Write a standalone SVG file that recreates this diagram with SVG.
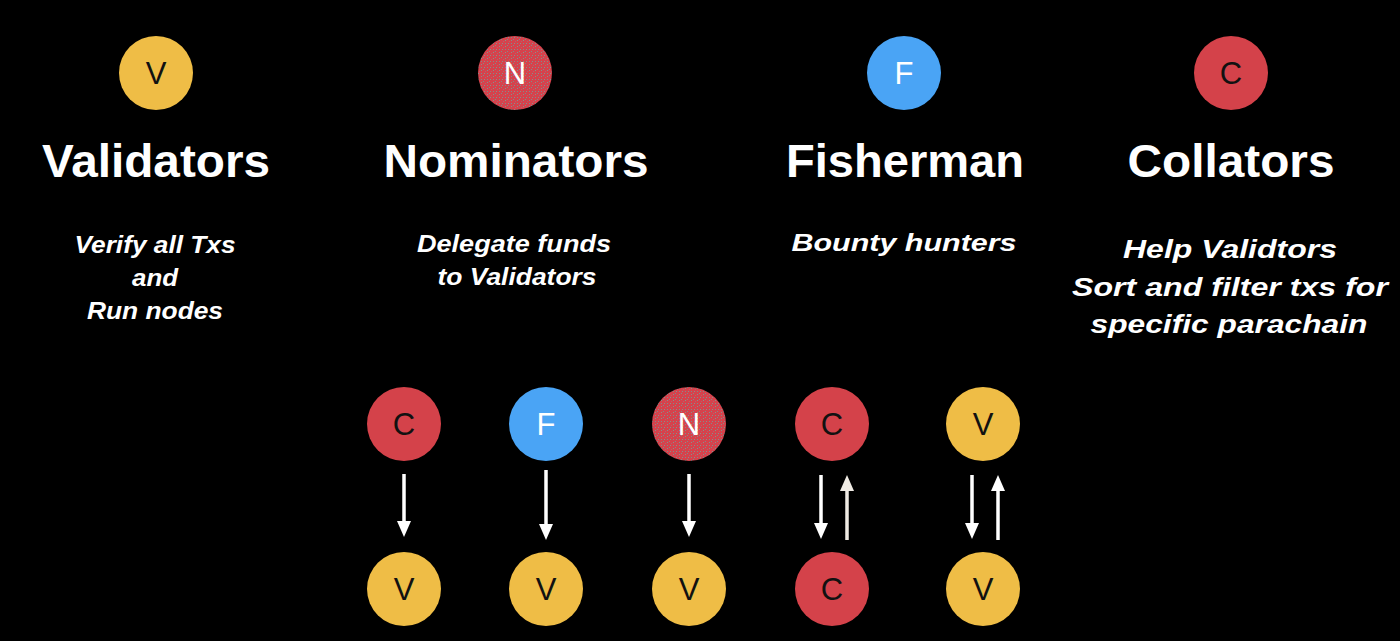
<svg xmlns="http://www.w3.org/2000/svg" width="1400" height="641" viewBox="0 0 1400 641">
  <defs>
    <style>
      .title { font-family: "Liberation Sans", Arial, sans-serif; font-weight: bold; font-size: 46px; fill: #ffffff; text-anchor: middle; }
      .sub { font-family: "Liberation Sans", Arial, sans-serif; font-weight: bold; font-style: italic; font-size: 24px; fill: #ffffff; text-anchor: middle; }
      .sub2 { font-family: "Liberation Sans", Arial, sans-serif; font-weight: bold; font-style: italic; font-size: 26px; fill: #ffffff; text-anchor: middle; }
      .letter { font-family: "Liberation Sans", Arial, sans-serif; font-size: 31px; text-anchor: middle; }
      .dark { fill: #111111; }
      .light { fill: #ffffff; }
      .yellow { fill: #efbd46; }
      .red { fill: #d4424a; }
      .blue { fill: #4aa4f5; }
      .nom { fill: url(#nomPattern); }
      .arrow { stroke: #ffffff; stroke-width: 3.5; fill: none; marker-end: url(#head); }
      .arrowB { stroke: #f0ebe4; stroke-width: 3.5; fill: none; marker-end: url(#headB); }
    </style>
    <pattern id="nomPattern" x="0" y="0" width="6" height="6" patternUnits="userSpaceOnUse">
      <rect width="6" height="6" fill="#d6424c"/>
      <rect x="1" y="1" width="1" height="1" fill="#7f8c8a"/>
      <rect x="4" y="1" width="1" height="1" fill="#8a8f8c"/>
      <rect x="1" y="4" width="1" height="1" fill="#8a8f8c"/>
      <rect x="3" y="3" width="1" height="1" fill="#7f8c8a"/>
      <rect x="5" y="5" width="1" height="1" fill="#b8616a"/>
    </pattern>
    <marker id="head" viewBox="0 0 16 14" refX="7" refY="7" markerWidth="16" markerHeight="14" markerUnits="userSpaceOnUse" orient="auto">
      <path d="M0,0 L16,7 L0,14 Z" fill="#ffffff"/>
    </marker>
    <marker id="headB" viewBox="0 0 16 14" refX="7" refY="7" markerWidth="16" markerHeight="14" markerUnits="userSpaceOnUse" orient="auto">
      <path d="M0,0 L16,7 L0,14 Z" fill="#f0ebe4"/>
    </marker>
  </defs>

  <rect width="1400" height="641" fill="#000000"/>

  <!-- Header columns -->
  <g id="validators">
    <circle cx="156" cy="73" r="37" class="yellow"/>
    <text x="156" y="84" class="letter dark">V</text>
    <text x="156" y="177" class="title" textLength="228" lengthAdjust="spacingAndGlyphs">Validators</text>
    <text x="155" y="253" class="sub" textLength="161" lengthAdjust="spacingAndGlyphs">Verify all Txs</text>
    <text x="155" y="286" class="sub" textLength="46" lengthAdjust="spacingAndGlyphs">and</text>
    <text x="155" y="319" class="sub" textLength="136" lengthAdjust="spacingAndGlyphs">Run nodes</text>
  </g>

  <g id="nominators">
    <circle cx="515" cy="73" r="37" class="nom"/>
    <text x="515" y="84" class="letter light">N</text>
    <text x="516" y="177" class="title" textLength="265" lengthAdjust="spacingAndGlyphs">Nominators</text>
    <text x="514" y="252" class="sub" textLength="194" lengthAdjust="spacingAndGlyphs">Delegate funds</text>
    <text x="517" y="285" class="sub" textLength="159" lengthAdjust="spacingAndGlyphs">to Validators</text>
  </g>

  <g id="fisherman">
    <circle cx="904" cy="73" r="37" class="blue"/>
    <text x="904" y="84" class="letter light">F</text>
    <text x="905" y="177" class="title" textLength="238" lengthAdjust="spacingAndGlyphs">Fisherman</text>
    <text x="904" y="251" class="sub" textLength="225" lengthAdjust="spacingAndGlyphs">Bounty hunters</text>
  </g>

  <g id="collators">
    <circle cx="1231" cy="73" r="37" class="red"/>
    <text x="1231" y="84" class="letter dark">C</text>
    <text x="1231" y="177" class="title" textLength="207" lengthAdjust="spacingAndGlyphs">Collators</text>
    <text x="1230" y="258" class="sub2" textLength="214" lengthAdjust="spacingAndGlyphs">Help Validtors</text>
    <text x="1230" y="296" class="sub2" textLength="316" lengthAdjust="spacingAndGlyphs">Sort and filter txs for</text>
    <text x="1229" y="333" class="sub2" textLength="277" lengthAdjust="spacingAndGlyphs">specific parachain</text>
  </g>

  <!-- Bottom rows -->
  <g id="row-c-top">
    <circle cx="404" cy="424" r="37" class="red"/>
    <text x="404" y="435" class="letter dark">C</text>
  </g>
  <g id="row-v1-bottom">
    <circle cx="404" cy="589" r="37" class="yellow"/>
    <text x="404" y="600" class="letter dark">V</text>
  </g>

  <g id="row-f-top">
    <circle cx="546" cy="424" r="37" class="blue"/>
    <text x="546" y="435" class="letter light">F</text>
  </g>
  <g id="row-v2-bottom">
    <circle cx="546" cy="589" r="37" class="yellow"/>
    <text x="546" y="600" class="letter dark">V</text>
  </g>

  <g id="row-n-top">
    <circle cx="689" cy="424" r="37" class="nom"/>
    <text x="689" y="435" class="letter light">N</text>
  </g>
  <g id="row-v3-bottom">
    <circle cx="689" cy="589" r="37" class="yellow"/>
    <text x="689" y="600" class="letter dark">V</text>
  </g>

  <g id="row-c2-top">
    <circle cx="832" cy="424" r="37" class="red"/>
    <text x="832" y="435" class="letter dark">C</text>
  </g>
  <g id="row-c2-bottom">
    <circle cx="832" cy="589" r="37" class="red"/>
    <text x="832" y="600" class="letter dark">C</text>
  </g>

  <g id="row-v4-top">
    <circle cx="983" cy="424" r="37" class="yellow"/>
    <text x="983" y="435" class="letter dark">V</text>
  </g>
  <g id="row-v4-bottom">
    <circle cx="983" cy="589" r="37" class="yellow"/>
    <text x="983" y="600" class="letter dark">V</text>
  </g>

  <!-- Connectors -->
  <g id="connectors">
    <line x1="404" y1="474" x2="404" y2="528" class="arrow"/>
    <line x1="546" y1="470" x2="546" y2="531" class="arrow"/>
    <line x1="689" y1="474" x2="689" y2="528" class="arrow"/>
    <line x1="821" y1="475" x2="821" y2="530" class="arrow"/>
    <line x1="847" y1="540" x2="847" y2="484" class="arrowB"/>
    <line x1="972" y1="475" x2="972" y2="530" class="arrow"/>
    <line x1="998" y1="540" x2="998" y2="484" class="arrow"/>
  </g>
</svg>
